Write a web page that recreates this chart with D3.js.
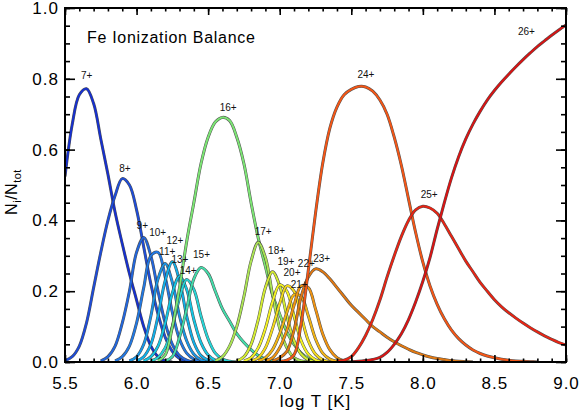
<!DOCTYPE html>
<html>
<head>
<meta charset="utf-8">
<script src="https://cdn.jsdelivr.net/npm/d3@7"></script>
<style>
  body { margin: 0; background: #fff; }
  svg { display: block; font-family: "Liberation Sans", Arial, sans-serif; }
</style>
</head>
<body>
<svg id="chart" width="582" height="418"></svg>
<script>
// ion stages of Fe, one curve each
const ions = ["7+", "8+", "9+", "10+", "11+", "12+", "13+", "14+", "15+", "16+",
              "17+", "18+", "19+", "20+", "21+", "22+", "23+", "24+", "25+", "26+"];

// log T where each series starts; values follow every 0.05 dex
const startLogT = [5.50, 5.50, 5.75, 5.85, 5.95, 6.00, 6.05, 6.10, 6.20, 6.15,
                   6.55, 6.70, 6.75, 6.80, 6.85, 6.90, 6.95, 7.00, 7.40, 7.50];
const logTStep = 0.05;

// ion fractions N_i/N_tot
const fractions = [
  [0.524, 0.67, 0.755, 0.772, 0.73, 0.63, 0.53, 0.423, 0.334, 0.25, 0.175, 0.10, 0.045, 0.015, 0.003, 0],
  [0.004, 0.015, 0.045, 0.11, 0.21, 0.31, 0.40, 0.47, 0.518, 0.50, 0.43, 0.325, 0.22, 0.135, 0.07, 0.03, 0.01, 0.002, 0],
  [0.003, 0.015, 0.045, 0.11, 0.20, 0.31, 0.352, 0.30, 0.20, 0.11, 0.05, 0.018, 0.005, 0],
  [0.003, 0.015, 0.045, 0.11, 0.21, 0.30, 0.31, 0.24, 0.14, 0.065, 0.025, 0.008, 0.002, 0],
  [0.003, 0.015, 0.05, 0.13, 0.235, 0.278, 0.225, 0.13, 0.06, 0.022, 0.006, 0.001],
  [0.003, 0.015, 0.05, 0.13, 0.23, 0.283, 0.23, 0.13, 0.055, 0.018, 0.005, 0],
  [0.003, 0.015, 0.045, 0.11, 0.195, 0.243, 0.205, 0.12, 0.055, 0.02, 0.005, 0],
  [0.003, 0.013, 0.04, 0.10, 0.18, 0.233, 0.205, 0.13, 0.065, 0.025, 0.008, 0.002, 0],
  [0.003, 0.015, 0.07, 0.15, 0.235, 0.267, 0.25, 0.20, 0.15, 0.115, 0.08, 0.055, 0.035, 0.018, 0.008, 0.003, 0],
  [0.003, 0.02, 0.10, 0.21, 0.34, 0.45, 0.56, 0.635, 0.678, 0.691, 0.682, 0.635, 0.56, 0.45, 0.35, 0.27, 0.19, 0.135, 0.085, 0.05, 0.025, 0.01, 0.003, 0],
  [0.003, 0.015, 0.045, 0.10, 0.185, 0.285, 0.338, 0.295, 0.19, 0.095, 0.04, 0.012, 0.003, 0],
  [0.003, 0.015, 0.05, 0.12, 0.21, 0.255, 0.215, 0.13, 0.06, 0.022, 0.006, 0],
  [0.003, 0.012, 0.04, 0.095, 0.17, 0.218, 0.20, 0.13, 0.06, 0.022, 0.006, 0],
  [0.003, 0.012, 0.04, 0.095, 0.165, 0.215, 0.20, 0.13, 0.06, 0.022, 0.006, 0],
  [0.003, 0.012, 0.035, 0.08, 0.14, 0.19, 0.185, 0.13, 0.065, 0.025, 0.008, 0.002, 0],
  [0.003, 0.012, 0.04, 0.09, 0.16, 0.215, 0.21, 0.15, 0.08, 0.035, 0.012, 0.003, 0],
  [0.003, 0.012, 0.03, 0.09, 0.185, 0.24, 0.263, 0.255, 0.235, 0.21, 0.185, 0.16, 0.14, 0.12, 0.10, 0.085, 0.07, 0.057, 0.046, 0.036, 0.027, 0.02, 0.014, 0.01, 0.007, 0.004, 0.002, 0.001, 0],
  [0.002, 0.005, 0.02, 0.11, 0.26, 0.42, 0.56, 0.66, 0.72, 0.755, 0.77, 0.778, 0.777, 0.765, 0.74, 0.70, 0.635, 0.555, 0.46, 0.365, 0.282, 0.215, 0.163, 0.122, 0.09, 0.066, 0.048, 0.034, 0.024, 0.017, 0.012, 0.008, 0.005, 0.003, 0.002, 0.001, 0],
  [0.002, 0.005, 0.015, 0.04, 0.075, 0.12, 0.175, 0.24, 0.30, 0.355, 0.40, 0.43, 0.44, 0.435, 0.42, 0.39, 0.355, 0.32, 0.285, 0.255, 0.225, 0.2, 0.176, 0.156, 0.139, 0.124, 0.11, 0.097, 0.085, 0.074, 0.064, 0.055, 0.048],
  [0.001, 0.002, 0.004, 0.007, 0.013, 0.027, 0.05, 0.08, 0.12, 0.17, 0.228, 0.295, 0.375, 0.45, 0.52, 0.58, 0.63, 0.672, 0.708, 0.74, 0.767, 0.791, 0.813, 0.834, 0.854, 0.873, 0.891, 0.907, 0.923, 0.938, 0.952]
];

const ionColors = ["#1630d0", "#1e4cd8", "#2266dc", "#2278e2", "#1a94e4", "#12aee8", "#14c4e2", "#26d4d6", "#44dcaa", "#7ce474",
                   "#ace454", "#d4ec32", "#f4f224", "#f4da1c", "#f2b414", "#f09412", "#e07812", "#f45616", "#e82414", "#d81414"];

// label anchors in data units (log T, fraction)
const labelLogT = [5.652, 5.919, 6.040, 6.147, 6.214, 6.268, 6.303, 6.361, 6.454, 6.640,
                   6.884, 6.978, 7.043, 7.086, 7.136, 7.186, 7.293, 7.602, 8.044, 8.724];
const labelFrac = [0.808, 0.547, 0.386, 0.366, 0.312, 0.343, 0.290, 0.258, 0.305, 0.720,
                   0.370, 0.316, 0.285, 0.254, 0.219, 0.278, 0.293, 0.811, 0.472, 0.933];

const xTicks = [5.5, 6.0, 6.5, 7.0, 7.5, 8.0, 8.5, 9.0];
const xTickLabels = ["5.5", "6.0", "6.5", "7.0", "7.5", "8.0", "8.5", "9.0"];
const yTicks = [0, 0.2, 0.4, 0.6, 0.8, 1.0];
const yTickLabels = ["0.0", "0.2", "0.4", "0.6", "0.8", "1.0"];

const svg = d3.select("#chart");
const plotLeft = 65, plotRight = 566, plotTop = 8, plotBottom = 362;

const x = d3.scaleLinear().domain([5.5, 9.0]).range([plotLeft, plotRight]);
const y = d3.scaleLinear().domain([0, 1]).range([plotBottom, plotTop]);

svg.append("clipPath").attr("id", "plotclip")
  .append("rect")
    .attr("x", plotLeft).attr("y", plotTop - 2)
    .attr("width", plotRight - plotLeft).attr("height", plotBottom - plotTop + 2);

let series = ions.map((name, i) =>
  fractions[i].map((v, k) => ({ t: startLogT[i] + k * logTStep, v: v })));

let line = d3.line()
  .x(d => x(d.t))
  .y(d => y(Math.max(0, d.v)))
  .curve(d3.curveCatmullRom.alpha(0.5));

let curves = svg.append("g").attr("clip-path", "url(#plotclip)");
series.forEach((pts, i) => {
  // dark edge first, then the coloured core
  curves.append("path")
    .attr("d", line(pts))
    .attr("fill", "none")
    .attr("stroke", "#333")
    .attr("stroke-opacity", 0.85)
    .attr("stroke-width", 3.0);
  curves.append("path")
    .attr("d", line(pts))
    .attr("fill", "none")
    .attr("stroke", ionColors[i])
    .attr("stroke-width", 2.0);
});

// ion labels
svg.append("g").selectAll("text")
  .data(ions)
  .join("text")
    .attr("x", (d, i) => x(labelLogT[i]))
    .attr("y", (d, i) => y(labelFrac[i]))
    .attr("dy", "0.35em")
    .attr("text-anchor", "middle")
    .attr("font-size", "10px")
    .attr("fill", "#111")
    .text(d => d);

// axes, ticks pointing inward on all four sides
const minorX = d3.range(55, 91).map(d => d / 10);
const minorY = d3.range(0, 21).map(d => d / 20);

function styleAxis(g) {
  g.select(".domain").remove();
  g.selectAll(".tick line").attr("stroke", "#000").attr("stroke-width", 1.6);
  g.selectAll("text")
    .attr("font-size", "17px")
    .attr("letter-spacing", "1px")
    .attr("fill", "#000")
    .attr("font-family", "Liberation Sans, Arial, sans-serif");
}

svg.append("g").attr("transform", `translate(0,${plotBottom})`)
  .call(d3.axisBottom(x).tickValues(minorX).tickSize(-3.5).tickFormat(""))
  .call(styleAxis);
svg.append("g").attr("transform", `translate(0,${plotBottom})`)
  .call(d3.axisBottom(x).tickValues(xTicks).tickSize(-7).tickPadding(15)
    .tickFormat((d, i) => xTickLabels[i]))
  .call(styleAxis);
svg.append("g").attr("transform", `translate(0,${plotTop})`)
  .call(d3.axisTop(x).tickValues(minorX).tickSize(-3.5).tickFormat(""))
  .call(styleAxis);
svg.append("g").attr("transform", `translate(0,${plotTop})`)
  .call(d3.axisTop(x).tickValues(xTicks).tickSize(-7).tickFormat(""))
  .call(styleAxis);

svg.append("g").attr("transform", `translate(${plotLeft},0)`)
  .call(d3.axisLeft(y).tickValues(minorY).tickSize(-5).tickFormat(""))
  .call(styleAxis);
svg.append("g").attr("transform", `translate(${plotLeft},0)`)
  .call(d3.axisLeft(y).tickValues(yTicks).tickSize(-10).tickPadding(6)
    .tickFormat((d, i) => yTickLabels[i]))
  .call(styleAxis);
svg.append("g").attr("transform", `translate(${plotRight},0)`)
  .call(d3.axisRight(y).tickValues(minorY).tickSize(-5).tickFormat(""))
  .call(styleAxis);
svg.append("g").attr("transform", `translate(${plotRight},0)`)
  .call(d3.axisRight(y).tickValues(yTicks).tickSize(-10).tickFormat(""))
  .call(styleAxis);

svg.append("rect")
  .attr("x", plotLeft).attr("y", plotTop)
  .attr("width", plotRight - plotLeft).attr("height", plotBottom - plotTop)
  .attr("fill", "none")
  .attr("stroke", "#000")
  .attr("stroke-width", 2);

// title and axis titles
svg.append("text")
  .attr("x", 87).attr("y", 43)
  .attr("font-size", "16px")
  .attr("letter-spacing", "0.7px")
  .text("Fe Ionization Balance");

svg.append("text")
  .attr("x", (plotLeft + plotRight) / 2).attr("y", 407)
  .attr("text-anchor", "middle")
  .attr("font-size", "17px")
  .attr("letter-spacing", "1px")
  .text("log T [K]");

let ylab = svg.append("text")
  .attr("transform", "translate(17,192) rotate(-90)")
  .attr("text-anchor", "middle")
  .attr("font-size", "16px")
  .attr("letter-spacing", "0.5px");
ylab.append("tspan").text("N");
ylab.append("tspan").attr("font-size", "11px").attr("dy", 4).text("i");
ylab.append("tspan").attr("dy", -4).text("/N");
ylab.append("tspan").attr("font-size", "11px").attr("dy", 4).text("tot");
</script>
</body>
</html>
